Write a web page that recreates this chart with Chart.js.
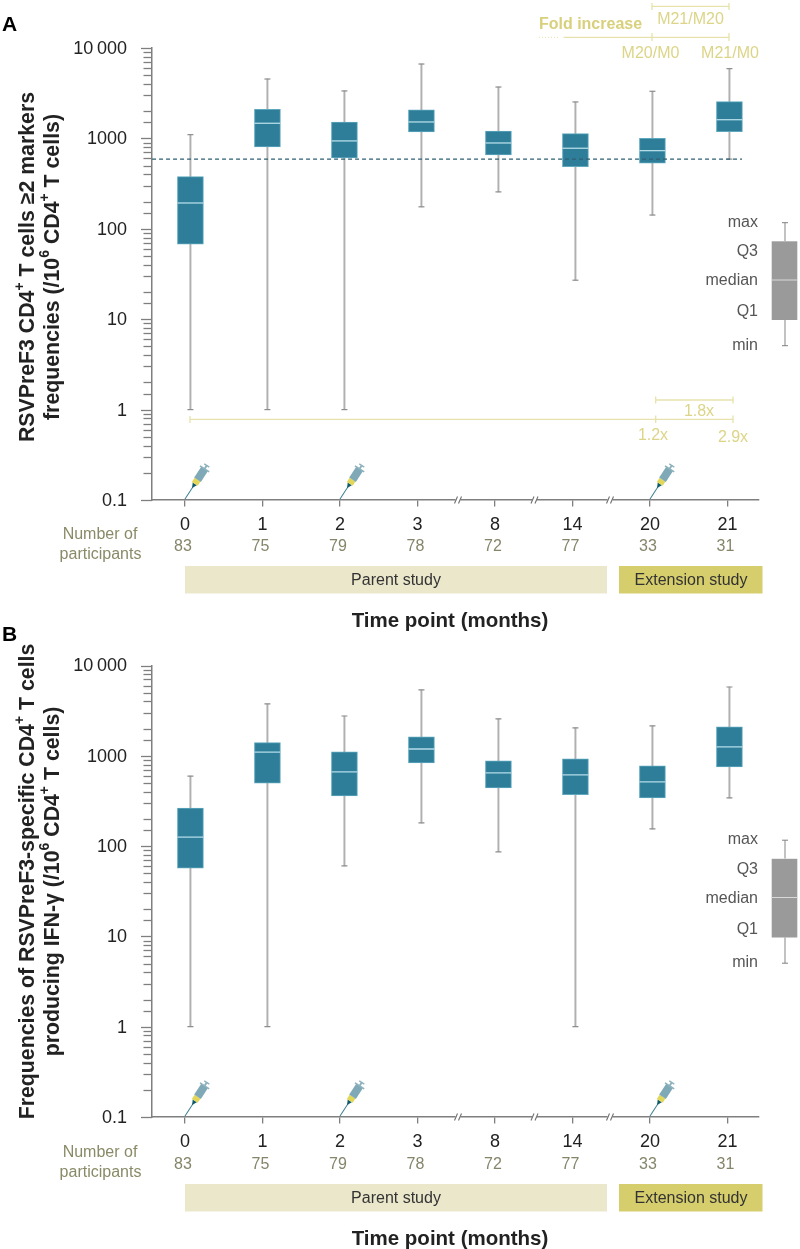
<!DOCTYPE html>
<html>
<head>
<meta charset="utf-8">
<style>
html,body{margin:0;padding:0;background:#fff;}
#wrap{position:relative;width:800px;height:1249px;overflow:hidden;background:#fff;}
canvas{position:absolute;left:0;}
svg{position:absolute;left:0;top:0;}
</style>
<script src="https://cdn.jsdelivr.net/npm/chart.js@4"></script>
</head>
<body>
<div id="wrap">
<canvas id="chartA" width="800" height="540" style="top:0"></canvas>
<canvas id="chartB" width="800" height="540" style="top:620px"></canvas>
<svg id="overlay" width="800" height="1249" viewBox="0 0 800 1249"></svg>
</div>
<script>
const months = ['0','1','2','3','8','14','20','21'];
const participants = ['83','75','79','78','72','77','33','31'];
const yLabels = {0.1:'0.1',1:'1',10:'10',100:'100',1000:'1000',10000:'10\u2009000'};

const aMax    = [1100,4540,3350,6650,3700,2530,3320,5910];
const aQ3     = [378,2100,1520,2065,1208,1130,1000,2550];
const aMedian = [193,1470,938,1520,890,778,732,1610];
const aQ1     = [67.6,804,608,1178,656,488,531,1190];
const aMin    = [1,1,1,175,256,27,142,590];
const aThreshold = 590;

const bMax    = [595,3750,2760,5360,2560,2037,2140,5780];
const bQ3     = [263,1400,1104,1620,879,925,773,2089];
const bMedian = [126,1096,664,1190,647,615,514,1253];
const bQ1     = [57,498,360,834,442,370,342,753];
const bMin    = [1,1,60.5,181,86.5,1,155,342];

const FONT = '"Liberation Sans", Arial, sans-serif';
const AXIS = '#7f7f7f';
// boxes sit a little to the right of their tick in the source figure
const place = i => 0.07 + i * 0.9935;

const yTickPlugin = {
  id: 'yMinorMajor',
  afterDraw(chart) {
    const s = chart.scales.y, ctx = chart.ctx, x0 = chart.chartArea.left;
    ctx.save();
    ctx.strokeStyle = AXIS; ctx.lineWidth = 1.3;
    s.ticks.forEach(t => {
      const major = yLabels[t.value] !== undefined;
      const p = Math.round(s.getPixelForValue(t.value)) + 0.5;
      ctx.beginPath(); ctx.moveTo(x0 - (major ? 11 : 8.5), p); ctx.lineTo(x0, p); ctx.stroke();
    });
    ctx.restore();
  }
};

function build(id, top, bottomOffset, maxV, q3, med, q1, minV, threshold) {
  const pts = arr => arr.map((v, i) => ({ x: place(i), y: v }));
  const rng = arr => arr.map((v, i) => ({ x: place(i), y: [v[0], v[1]] }));
  const zip = (a, b) => a.map((v, i) => [v, b[i]]);
  const datasets = [];
  if (threshold !== null) {
    datasets.push({ type:'line', data:[{x:-0.425,y:threshold},{x:7.187,y:threshold}], borderColor:'#2f5f72',
      borderWidth:1.1, borderDash:[4,3], pointRadius:0, order:1, fill:false });
  }
  datasets.push(
    { type:'bar', data:rng(zip(minV,maxV)), backgroundColor:'#b0b0b0', borderWidth:0, maxBarThickness:1.3, barThickness:1.3,
      grouped:false, categoryPercentage:1, barPercentage:1, order:5 },
    { type:'scatter', data:pts(maxV), pointStyle:'line', pointRadius:3, borderColor:'#8c8c8c', borderWidth:1.2, pointBorderWidth:1.2, order:4 },
    { type:'scatter', data:pts(minV), pointStyle:'line', pointRadius:3, borderColor:'#8c8c8c', borderWidth:1.2, pointBorderWidth:1.2, order:4 },
    { type:'bar', data:rng(zip(q1,q3)), backgroundColor:'#2e7e9a', borderColor:'#5ea7bd', borderWidth:1, borderSkipped:false,
      maxBarThickness:26, barThickness:26, grouped:false, categoryPercentage:1, barPercentage:1, order:3 },
    { type:'scatter', data:pts(med), pointStyle:'line', pointRadius:13, borderColor:'#b5dde8', borderWidth:1.3, pointBorderWidth:1.3, order:2 }
  );
  return new Chart(document.getElementById(id), {
    data: { datasets },
    plugins: [yTickPlugin],
    options: {
      responsive:false, animation:false, devicePixelRatio:1,
      layout: { padding: { left:0, right:41, top:top, bottom:0 } },
      plugins: { legend:{display:false}, tooltip:{enabled:false}, title:{display:false} },
      scales: {
        x: {
          type:'linear', min:-0.4258, max:7.406, offset:false,
          afterBuildTicks(s){ s.ticks = months.map((m,i)=>({value:i})); },
          afterFit(s){ s.height = bottomOffset; },
          ticks:{ autoSkip:false, maxRotation:0, padding:8, color:'#222', font:{family:FONT,size:18},
                  callback:v=>months[v] },
          grid:{ offset:false, drawOnChartArea:false, drawTicks:true, tickLength:6.5, color:AXIS, lineWidth:1.3 },
          border:{ display:true, color:AXIS, width:1.5 }
        },
        y: {
          type:'logarithmic', min:0.1, max:10000,
          afterFit(s){ s.width = 152; },
          ticks:{ autoSkip:false, padding:25, labelOffset:1, color:'#222', font:{family:FONT,size:18},
                  callback:v=> yLabels[v] !== undefined ? yLabels[v] : '' },
          grid:{ display:false, drawTicks:false },
          border:{ display:true, color:AXIS, width:1.5 }
        }
      }
    }
  });
}

build('chartA', 48, 40, aMax, aQ3, aMedian, aQ1, aMin, aThreshold);
build('chartB', 45.5, 43, bMax, bQ3, bMedian, bQ1, bMin, null);

/* ---------- overlay: annotation text and decoration ---------- */
let svg = '';
const txt = (x,y,s,o={}) => {
  svg += `<text x="${x}" y="${y}" font-family='${FONT}' font-size="${o.size||16}" fill="${o.fill||'#333'}" text-anchor="${o.anchor||'middle'}" dominant-baseline="central"${o.bold?' font-weight="bold"':''}>${s}</text>`;
};
const line = (x1,y1,x2,y2,c,w=1.3,extra='') => {
  svg += `<line x1="${x1}" y1="${y1}" x2="${x2}" y2="${y2}" stroke="${c}" stroke-width="${w}" ${extra}/>`;
};
const rect = (x,y,w,h,c) => { svg += `<rect x="${x}" y="${y}" width="${w}" height="${h}" fill="${c}"/>`; };

const tickX = [185,262.5,340,417.5,495,572.5,650,727.5];

function syringe(x,y){
  svg += `<g transform="translate(${x},${y}) rotate(-57)">
    <line x1="0" y1="0" x2="15" y2="0" stroke="#3b7f91" stroke-width="1"/>
    <polygon points="13,0 18,-2.5 18,2.5" fill="#0e5a6b"/>
    <rect x="18" y="-3.5" width="5" height="7" fill="#e3d75a"/>
    <rect x="23" y="-4" width="13" height="8" fill="#7fa9b6"/>
    <line x1="36" y1="-5.5" x2="36" y2="5.5" stroke="#8eb3be" stroke-width="1.6"/>
    <line x1="36" y1="0" x2="40" y2="0" stroke="#8eb3be" stroke-width="2"/>
    <line x1="40" y1="-3" x2="40" y2="3" stroke="#8eb3be" stroke-width="1.4"/>
  </g>`;
}

function breakMark(x,y){
  rect(x-2.5,y-2,5,4,'#fff');
  line(x-3.5,y+3.5,x-0.5,y-3.5,'#6f6f6f',1.1);
  line(x+0.5,y+3.5,x+3.5,y-3.5,'#6f6f6f',1.1);
}

function legendBox(dy){
  const grey = '#9a9a9a';
  [['max',221],['Q3',250.5],['median',279.5],['Q1',310.5],['min',344]].forEach(([s,y])=>
    txt(758,y+dy,s,{anchor:'end',fill:'#565656'}));
  line(785,222.7+dy,785,241+dy,grey,1.2);
  line(785,320+dy,785,345.7+dy,grey,1.2);
  line(782,222.7+dy,788,222.7+dy,'#808080',1);
  line(782,345.7+dy,788,345.7+dy,'#808080',1);
  rect(771.7,241.3+dy,25.6,78.7,grey);
  line(771.7,280+dy,797.3,280+dy,'#d9d9d9',1);
}

function panelFooter(dy, axisY){
  txt(100,533+dy,'Number of',{fill:'#8a8a68'});
  txt(100.5,553.5+dy,'participants',{fill:'#8a8a68'});
  participants.forEach((p,i)=>txt(tickX[i]-2,545.7+dy,p,{fill:'#85856a'}));
  rect(185,566+dy,422,27.5,'#ebe7cb');
  rect(619,566+dy,143.5,27.5,'#d6cd6c');
  txt(396,579.5+dy,'Parent study',{fill:'#333'});
  txt(691,579.5+dy,'Extension study',{fill:'#333'});
  txt(450,619+dy,'Time point (months)',{bold:true,size:20.5,fill:'#222'});
  [458,534.5,610].forEach(x=>breakMark(x,axisY));
  [185,340,650].forEach(x=>syringe(x,axisY-1));
}

const sup = s => `<tspan dy="-8" font-size="14">${s}</tspan><tspan dy="8">\u200b</tspan>`;
function yTitle(x,y,content){
  svg += `<text transform="rotate(-90 ${x} ${y})" x="${x}" y="${y}" font-family='${FONT}' font-size="21.3" font-weight="bold" fill="#222" text-anchor="middle" dominant-baseline="central">${content}</text>`;
}

txt(2,23,'A',{anchor:'start',bold:true,size:21,fill:'#000'});
txt(2,633,'B',{anchor:'start',bold:true,size:21,fill:'#000'});

yTitle(27,267,`RSVPreF3 CD4${sup('+')} T cells \u22652 markers`);
yTitle(52,267,`frequencies (/10${sup('6')} CD4${sup('+')} T cells)`);
yTitle(27,881.5,`Frequencies of RSVPreF3-specific CD4${sup('+')} T cells`);
yTitle(52,881.5,`producing IFN-\u03b3 (/10${sup('6')} CD4${sup('+')} T cells)`);

panelFooter(0,500);
panelFooter(618,1117);
legendBox(0);
legendBox(617.5);

// fold-increase annotations (panel A)
const Y = '#e7e2ab', YT = '#dcd588';
txt(590.5,23,'Fold increase',{bold:true,fill:'#d9d07c'});
line(652,6.3,729,6.3,Y); line(652,3,652,10,Y); line(729,3,729,10,Y);
txt(690.5,18,'M21/M20',{fill:YT});
line(539,37.3,560,37.3,Y,1,'stroke-dasharray="1 2"');
line(563.5,37.3,729,37.3,Y); line(652,33,652,41,Y); line(729,33,729,41,Y);
txt(650.5,52.5,'M20/M0',{fill:YT});
txt(730,52.5,'M21/M0',{fill:YT});
line(655.7,400,733,400,Y); line(655.7,396.5,655.7,403.5,Y); line(733,396.5,733,403.5,Y);
txt(699,410.5,'1.8x',{fill:YT});
line(190,419.3,733,419.3,Y); line(190,416,190,423,Y); line(655.7,415.5,655.7,423,Y); line(733,415.5,733,423,Y);
txt(653,434.5,'1.2x',{fill:YT});
txt(733,436,'2.9x',{fill:YT});

document.getElementById('overlay').innerHTML = svg;
</script>
</body>
</html>
